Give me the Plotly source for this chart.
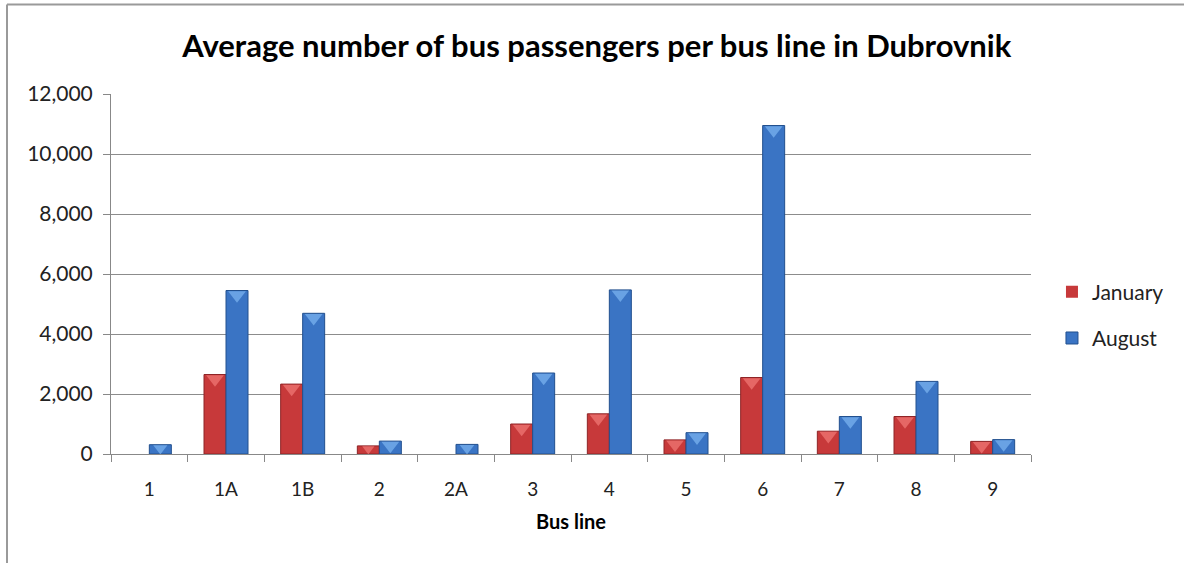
import plotly.graph_objects as go
import numpy as np

# Bus lines and average passenger counts
bus_lines = ["1", "1A", "1B", "2", "2A", "3", "4", "5", "6", "7", "8", "9"]
january = [0, 2650, 2330, 270, 0, 1000, 1340, 470, 2550, 760, 1250, 420]
august = [310, 5450, 4690, 430, 320, 2700, 5470, 710, 10950, 1250, 2420, 480]

series_names = ["January", "August"]
y_ticks = [0, 2000, 4000, 6000, 8000, 10000, 12000]

FONT = "Lato"
BAR_W = 0.287
RED, RED_LINE, RED_HI = "#C7393A", "#8E2426", "#F27A78"
BLUE, BLUE_LINE, BLUE_HI = "#3A74C4", "#22508E", "#7DB7F2"

x = np.arange(len(bus_lines))

fig = go.Figure()

for vals, name, col, line, off in [
    (january, series_names[0], RED, RED_LINE, -BAR_W),
    (august, series_names[1], BLUE, BLUE_LINE, 0.0),
]:
    lw = [1 if v > 0 else 0 for v in vals]
    fig.add_trace(go.Bar(
        x=x, y=vals, name=name, width=BAR_W, offset=off,
        marker=dict(color=col, line=dict(color=line, width=lw)),
        legendgroup=name,
    ))

# Light bevel chevrons on top of each bar
px_per_unit = 360 / 12000
for vals, col, off in [(january, RED_HI, -BAR_W / 2), (august, BLUE_HI, BAR_W / 2)]:
    v = np.array(vals, dtype=float)
    mask = v > 0
    size = np.clip(v[mask] * px_per_unit * 1.2, 4, 14)
    fig.add_trace(go.Scatter(
        x=x[mask] + off, y=v[mask] - size * 0.32 / px_per_unit,
        mode="markers",
        marker=dict(symbol="triangle-down", size=size * 1.1, color=col,
                    line=dict(width=0)),
        showlegend=False, hoverinfo="skip",
    ))

fig.update_layout(
    width=1184, height=563,
    margin=dict(l=111, r=153, t=94, b=109),
    paper_bgcolor="white", plot_bgcolor="white",
    barmode="overlay",
    font=dict(family=FONT, size=17, color="#222222"),
    title=dict(text="<b>Average number of bus passengers per bus line in Dubrovnik</b>",
               x=0.504, xanchor="center", y=0.918, yanchor="middle",
               font=dict(family=FONT, size=31, color="#000000")),
    legend=dict(x=1.0228, xanchor="left", y=0.386, yanchor="middle",
                font=dict(family=FONT, size=21, color="#222222"),
                traceorder="grouped", tracegroupgap=16,
                bgcolor="rgba(0,0,0,0)", itemwidth=30),
    showlegend=True,
)

fig.update_xaxes(
    range=[-0.5, len(bus_lines) - 0.5],
    tickmode="array", tickvals=x, ticktext=bus_lines,
    ticks="", showgrid=False, zeroline=False,
    showline=True, linecolor="#888888", linewidth=1,
    minor=dict(tick0=0.5, dtick=1, ticks="outside", ticklen=7,
               tickcolor="#888888", showgrid=False),
    tickfont=dict(family=FONT, size=19, color="#222222"),
    ticklabelstandoff=18,
    title=dict(text="<b>Bus line</b>", standoff=16,
               font=dict(family=FONT, size=20, color="#000000")),
    fixedrange=True,
)

fig.update_yaxes(
    range=[0, 12000], tickmode="array", tickvals=y_ticks,
    tickformat=",", ticks="outside", ticklen=7, tickcolor="#888888",
    showgrid=True, gridcolor="#8c8c8c", gridwidth=1,
    showline=True, linecolor="#888888", linewidth=1, zeroline=False,
    tickfont=dict(family=FONT, size=21, color="#222222"),
    ticklabelstandoff=6,
    fixedrange=True,
)

# Chart frame: top and left edges
fig.add_shape(type="line", xref="paper", yref="paper",
              x0=(7 - 111) / 920, x1=(1184 - 111) / 920,
              y0=(454 - 4.5) / 360, y1=(454 - 4.5) / 360,
              line=dict(color="#9a9a9a", width=2))
fig.add_shape(type="line", xref="paper", yref="paper",
              x0=(7 - 111) / 920, x1=(7 - 111) / 920,
              y0=(454 - 4.5) / 360, y1=(454 - 563) / 360,
              line=dict(color="#9a9a9a", width=2))

fig.write_html("out.html")
